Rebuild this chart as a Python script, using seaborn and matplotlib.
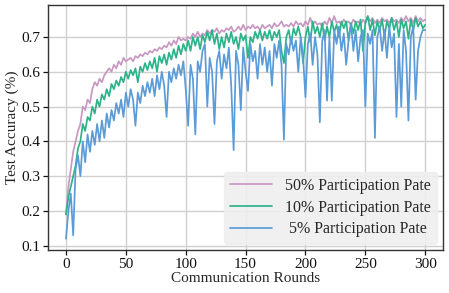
import numpy as np
import pandas as pd
import matplotlib
matplotlib.use("Agg")
import matplotlib.pyplot as plt
import seaborn as sns

rounds = list(range(0, 301, 2))

acc_50 = [0.19, 0.27, 0.32, 0.37, 0.40, 0.43, 0.45, 0.50, 0.49, 0.52,
          0.51, 0.55, 0.57, 0.56, 0.58, 0.57, 0.59, 0.60, 0.61, 0.60,
          0.62, 0.61, 0.63, 0.62, 0.64, 0.63, 0.635, 0.64, 0.63, 0.645,
          0.64, 0.65, 0.645, 0.655, 0.65, 0.66, 0.655, 0.665, 0.66, 0.67,
          0.665, 0.675, 0.67, 0.685, 0.675, 0.69, 0.68, 0.70, 0.69, 0.695,
          0.69, 0.70, 0.695, 0.71, 0.70, 0.715, 0.70, 0.71, 0.705, 0.72,
          0.71, 0.72, 0.715, 0.725, 0.71, 0.72, 0.715, 0.725, 0.72, 0.73,
          0.715, 0.72, 0.73, 0.72, 0.735, 0.72, 0.73, 0.725, 0.735, 0.725,
          0.73, 0.72, 0.735, 0.725, 0.73, 0.735, 0.725, 0.74, 0.73, 0.735,
          0.745, 0.73, 0.735, 0.73, 0.74, 0.73, 0.745, 0.735, 0.74, 0.73,
          0.745, 0.735, 0.755, 0.735, 0.745, 0.735, 0.74, 0.73, 0.745, 0.735,
          0.755, 0.74, 0.76, 0.74, 0.745, 0.735, 0.75, 0.74, 0.745, 0.735,
          0.75, 0.74, 0.745, 0.735, 0.75, 0.74, 0.76, 0.745, 0.755, 0.74,
          0.75, 0.74, 0.755, 0.745, 0.75, 0.74, 0.755, 0.745, 0.75, 0.74,
          0.755, 0.745, 0.76, 0.745, 0.755, 0.74, 0.76, 0.745, 0.755, 0.745,
          0.75]

acc_10 = [0.19, 0.24, 0.27, 0.30, 0.33, 0.38, 0.40, 0.45, 0.43, 0.47,
          0.46, 0.50, 0.48, 0.52, 0.50, 0.535, 0.52, 0.55, 0.53, 0.565,
          0.55, 0.575, 0.56, 0.585, 0.57, 0.60, 0.58, 0.605, 0.59, 0.61,
          0.57, 0.615, 0.60, 0.625, 0.605, 0.63, 0.61, 0.64, 0.60, 0.645,
          0.625, 0.65, 0.62, 0.655, 0.635, 0.665, 0.64, 0.675, 0.65, 0.68,
          0.66, 0.69, 0.66, 0.70, 0.675, 0.70, 0.665, 0.705, 0.685, 0.715,
          0.69, 0.72, 0.68, 0.71, 0.665, 0.70, 0.67, 0.71, 0.685, 0.715,
          0.68, 0.70, 0.665, 0.71, 0.69, 0.705, 0.64, 0.70, 0.685, 0.715,
          0.695, 0.72, 0.69, 0.715, 0.695, 0.72, 0.69, 0.715, 0.70, 0.72,
          0.66, 0.625, 0.70, 0.72, 0.68, 0.725, 0.705, 0.73, 0.70, 0.625,
          0.70, 0.73, 0.685, 0.745, 0.71, 0.73, 0.70, 0.74, 0.69, 0.73,
          0.70, 0.745, 0.715, 0.735, 0.70, 0.745, 0.725, 0.745, 0.69, 0.74,
          0.71, 0.745, 0.72, 0.75, 0.66, 0.74, 0.76, 0.72, 0.75, 0.705,
          0.745, 0.72, 0.75, 0.70, 0.745, 0.725, 0.755, 0.72, 0.745, 0.70,
          0.75, 0.725, 0.745, 0.695, 0.75, 0.72, 0.755, 0.73, 0.745, 0.725,
          0.735]

acc_5 = [0.12, 0.20, 0.25, 0.13, 0.32, 0.36, 0.30, 0.40, 0.34, 0.42,
         0.37, 0.43, 0.39, 0.45, 0.40, 0.46, 0.41, 0.48, 0.44, 0.49,
         0.46, 0.51, 0.48, 0.52, 0.47, 0.54, 0.50, 0.55, 0.52, 0.445,
         0.54, 0.51, 0.56, 0.53, 0.57, 0.54, 0.58, 0.53, 0.59, 0.55,
         0.60, 0.56, 0.47, 0.60, 0.57, 0.61, 0.58, 0.62, 0.59, 0.63,
         0.55, 0.445, 0.62, 0.58, 0.42, 0.63, 0.60, 0.66, 0.68, 0.50,
         0.64, 0.60, 0.45, 0.63, 0.66, 0.58, 0.65, 0.61, 0.67, 0.56,
         0.375, 0.66, 0.62, 0.49, 0.67, 0.60, 0.545, 0.68, 0.63, 0.66,
         0.58, 0.68, 0.62, 0.67, 0.60, 0.66, 0.56, 0.68, 0.64, 0.69,
         0.62, 0.405, 0.68, 0.65, 0.70, 0.66, 0.69, 0.60, 0.70, 0.64,
         0.527, 0.68, 0.71, 0.62, 0.70, 0.65, 0.455, 0.69, 0.72, 0.517,
         0.70, 0.517, 0.72, 0.68, 0.73, 0.66, 0.71, 0.62, 0.69, 0.737,
         0.66, 0.72, 0.63, 0.70, 0.72, 0.50, 0.71, 0.68, 0.72, 0.41,
         0.70, 0.73, 0.66, 0.72, 0.64, 0.73, 0.67, 0.71, 0.47, 0.68,
         0.50, 0.72, 0.66, 0.46, 0.70, 0.73, 0.52, 0.66, 0.70, 0.72,
         0.72]

labels = ["50% Participation Pate", "10% Participation Pate", " 5% Participation Pate"]
colors = ["#c898c2", "#2db38a", "#5b9bd8"]

df = pd.concat([
    pd.DataFrame({"round": rounds, "acc": acc_50, "series": labels[0]}),
    pd.DataFrame({"round": rounds, "acc": acc_10, "series": labels[1]}),
    pd.DataFrame({"round": rounds, "acc": acc_5, "series": labels[2]}),
])

sns.set_style("whitegrid")
plt.rcParams["font.family"] = ["Liberation Serif", "DejaVu Serif"]

fig = plt.figure(figsize=(4.49, 2.93), dpi=100)
ax = fig.add_axes([0.107, 0.147, 0.880, 0.836])

sns.lineplot(data=df, x="round", y="acc", hue="series", palette=colors,
             hue_order=labels, linewidth=1.25, ax=ax)

ax.set_xticks([0, 50, 100, 150, 200, 250, 300])
ax.set_yticks([0.1, 0.2, 0.3, 0.4, 0.5, 0.6, 0.7])
ax.tick_params(axis="both", labelsize=11, colors="#111111", length=3.5,
               width=0.9, bottom=True, left=True, pad=2)
ax.set_xlabel("Communication Rounds", fontsize=11, labelpad=1)
ax.set_ylabel("Test Accuracy (%)", fontsize=11, labelpad=2)
ax.grid(True, color="#d0d0d0", linewidth=1.0)
for s in ax.spines.values():
    s.set_color("#333333")
    s.set_linewidth(1.0)

leg = ax.legend(loc="lower right", fontsize=11.5, frameon=True,
                handlelength=2.6, borderaxespad=0.4, labelspacing=0.35)
leg.get_frame().set_facecolor("#efefef")
leg.get_frame().set_edgecolor("#efefef")
leg.get_frame().set_alpha(0.9)

fig.savefig("out.png", dpi=100)
